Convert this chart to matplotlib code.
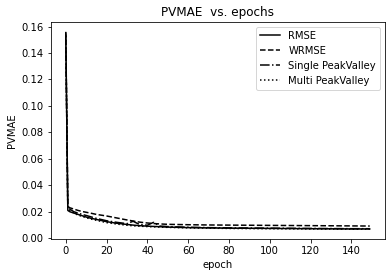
import numpy as np
from matplotlib import pyplot as plt

epochs = [0, 1, 2, 4, 6, 8, 10, 12, 15, 20, 25, 30, 33, 36, 40, 43, 46, 50,
          60, 70, 80, 90, 100, 110, 120, 130, 140, 149]

rmse = [0.155, 0.021, 0.020, 0.019, 0.018, 0.017, 0.016, 0.0152, 0.0142, 0.0125,
        0.0113, 0.0104, 0.0099, 0.0095, 0.0091, 0.0089, 0.0087, 0.0084,
        0.0080, 0.0078, 0.0076, 0.0075, 0.0074, 0.0073, 0.0072, 0.0071, 0.0070, 0.0070]
wrmse = [0.156, 0.024, 0.023, 0.022, 0.021, 0.0202, 0.0196, 0.019, 0.018, 0.0168,
         0.0153, 0.0138, 0.0130, 0.0122, 0.0115, 0.0111, 0.0108, 0.0105,
         0.0102, 0.0100, 0.0099, 0.0098, 0.0097, 0.0096, 0.0095, 0.0094, 0.0093, 0.0092]
single_pv = [0.154, 0.023, 0.022, 0.020, 0.019, 0.018, 0.0172, 0.0163, 0.0150, 0.0132,
             0.0120, 0.0110, 0.0128, 0.0105, 0.0098, 0.0120, 0.0092, 0.0088,
             0.0083, 0.0080, 0.0078, 0.0077, 0.0076, 0.0075, 0.0074, 0.0073, 0.0072, 0.0072]
multi_pv = [0.153, 0.022, 0.021, 0.019, 0.0175, 0.0165, 0.0155, 0.0146, 0.0135, 0.0118,
            0.0107, 0.0098, 0.0094, 0.0091, 0.0088, 0.0086, 0.0084, 0.0082,
            0.0078, 0.0076, 0.0074, 0.0073, 0.0072, 0.0071, 0.0070, 0.0069, 0.0068, 0.0068]

fig = plt.figure(figsize=(392 / 72, 278 / 72), dpi=72)
ax = fig.add_axes([0.129, 0.140, 0.853, 0.781])

ax.plot(epochs, rmse, 'k-', label='RMSE')
ax.plot(epochs, wrmse, 'k--', label='WRMSE')
ax.plot(epochs, single_pv, 'k-.', label='Single PeakValley')
ax.plot(epochs, multi_pv, 'k:', label='Multi PeakValley')

ax.set_title('PVMAE  vs. epochs')
ax.set_xlabel('epoch')
ax.set_ylabel('PVMAE')
ax.legend()

fig.savefig('out.png', dpi=72)
